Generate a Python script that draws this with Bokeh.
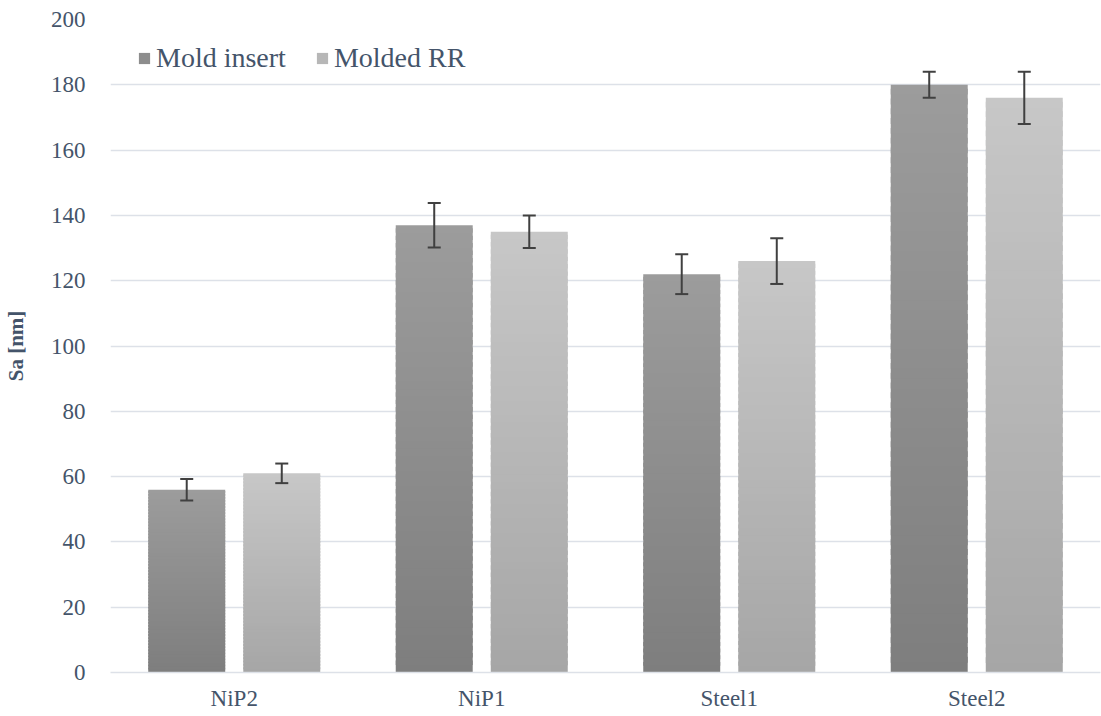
from bokeh.plotting import figure
from bokeh.models import (ColumnDataSource, FactorRange, Whisker, TeeHead, Legend,
                          LegendItem, SingleIntervalTicker)
from bokeh.transform import dodge
from bokeh.embed import file_html
from bokeh.resources import INLINE

# Surface roughness Sa [nm] of mold inserts and molded retroreflectors
categories = ["NiP2", "NiP1", "Steel1", "Steel2"]
series_names = ["Mold insert", "Molded RR"]
mold_insert = [56, 137, 122, 180]
mold_insert_err = [3.3, 6.8, 6.1, 4.0]
molded_rr = [61, 135, 126, 176]
molded_rr_err = [3.0, 5.0, 7.0, 8.0]

TEXT = "#44546A"
GRID = "#dde1e8"
FONT = "Times New Roman"

# vertical gradient per bar: (bottom colour, top colour)
gradients = {
    "Mold insert": ((0x7e, 0x7e, 0x7e), (0x9c, 0x9c, 0x9c)),
    "Molded RR": ((0xa6, 0xa6, 0xa6), (0xc7, 0xc7, 0xc7)),
}
offsets = {"Mold insert": -0.192, "Molded RR": 0.192}
BAR_W = 0.311
N_STRIPS = 60

p = figure(
    x_range=FactorRange(*categories),
    y_range=(0, 200),
    width=1101, height=716,
    output_backend="svg", toolbar_location=None,
    min_border_left=110, min_border_right=1,
    min_border_top=19, min_border_bottom=44,
)
p.outline_line_color = None


def hexcol(c):
    return "#%02x%02x%02x" % tuple(int(round(v)) for v in c)


def strips(values, name):
    lo, hi = gradients[name]
    cats, bottoms, tops, colors = [], [], [], []
    for cat, v in zip(categories, values):
        for k in range(N_STRIPS):
            t = (k + 0.5) / N_STRIPS
            col = tuple(lo[j] + (hi[j] - lo[j]) * t for j in range(3))
            cats.append(cat)
            bottoms.append(v * k / N_STRIPS)
            # slight overlap with the next strip hides anti-aliasing seams
            tops.append(v * min(k + 1.6, N_STRIPS) / N_STRIPS)
            colors.append(hexcol(col))
    return ColumnDataSource(dict(cat=cats, bottom=bottoms, top=tops, color=colors))


legend_items = []
for name, vals, errs in [("Mold insert", mold_insert, mold_insert_err),
                         ("Molded RR", molded_rr, molded_rr_err)]:
    src = strips(vals, name)
    r = p.vbar(x=dodge("cat", offsets[name], range=p.x_range), width=BAR_W,
               bottom="bottom", top="top", source=src,
               fill_color="color", line_color=None)
    legend_items.append(LegendItem(label=name, renderers=[r], index=N_STRIPS // 2))

    esrc = ColumnDataSource(dict(
        cat=categories,
        upper=[v + e for v, e in zip(vals, errs)],
        lower=[v - e for v, e in zip(vals, errs)],
    ))
    w = Whisker(
        base=dodge("cat", offsets[name], range=p.x_range),
        upper="upper", lower="lower", source=esrc,
        line_color="#404040", line_width=2,
        upper_head=TeeHead(size=13, line_color="#404040", line_width=2),
        lower_head=TeeHead(size=13, line_color="#404040", line_width=2),
        level="overlay",
    )
    p.add_layout(w)

legend = Legend(items=legend_items, orientation="horizontal",
                location=(27, 598), padding=0, margin=0, spacing=29,
                glyph_width=14, glyph_height=14, label_standoff=5,
                label_text_font=FONT, label_text_font_size="28px",
                label_text_color=TEXT, background_fill_alpha=0,
                border_line_color=None)
p.add_layout(legend)

# y axis
p.yaxis.ticker = SingleIntervalTicker(interval=20)
p.yaxis.axis_line_color = None
p.yaxis.major_tick_line_color = None
p.yaxis.minor_tick_line_color = None
p.yaxis.major_tick_out = 0
p.yaxis.major_label_standoff = 21
p.yaxis.major_label_text_font = FONT
p.yaxis.major_label_text_font_size = "23px"
p.yaxis.major_label_text_color = TEXT
p.yaxis.axis_label = "Sa [nm]"
p.yaxis.axis_label_text_font = FONT
p.yaxis.axis_label_text_font_style = "bold"
p.yaxis.axis_label_text_font_size = "21px"
p.yaxis.axis_label_text_color = TEXT
p.yaxis.axis_label_standoff = 20

# x axis
p.xaxis.axis_line_color = GRID
p.xaxis.axis_line_width = 1.5
p.xaxis.major_tick_line_color = None
p.xaxis.minor_tick_line_color = None
p.xaxis.major_tick_out = 0
p.xaxis.major_label_standoff = 13
p.xaxis.major_label_text_font = FONT
p.xaxis.major_label_text_font_size = "23px"
p.xaxis.major_label_text_color = TEXT

p.xgrid.grid_line_color = None
p.ygrid.grid_line_color = GRID
p.ygrid.grid_line_width = 1.5

open("out.html", "w").write(file_html(p, INLINE))
